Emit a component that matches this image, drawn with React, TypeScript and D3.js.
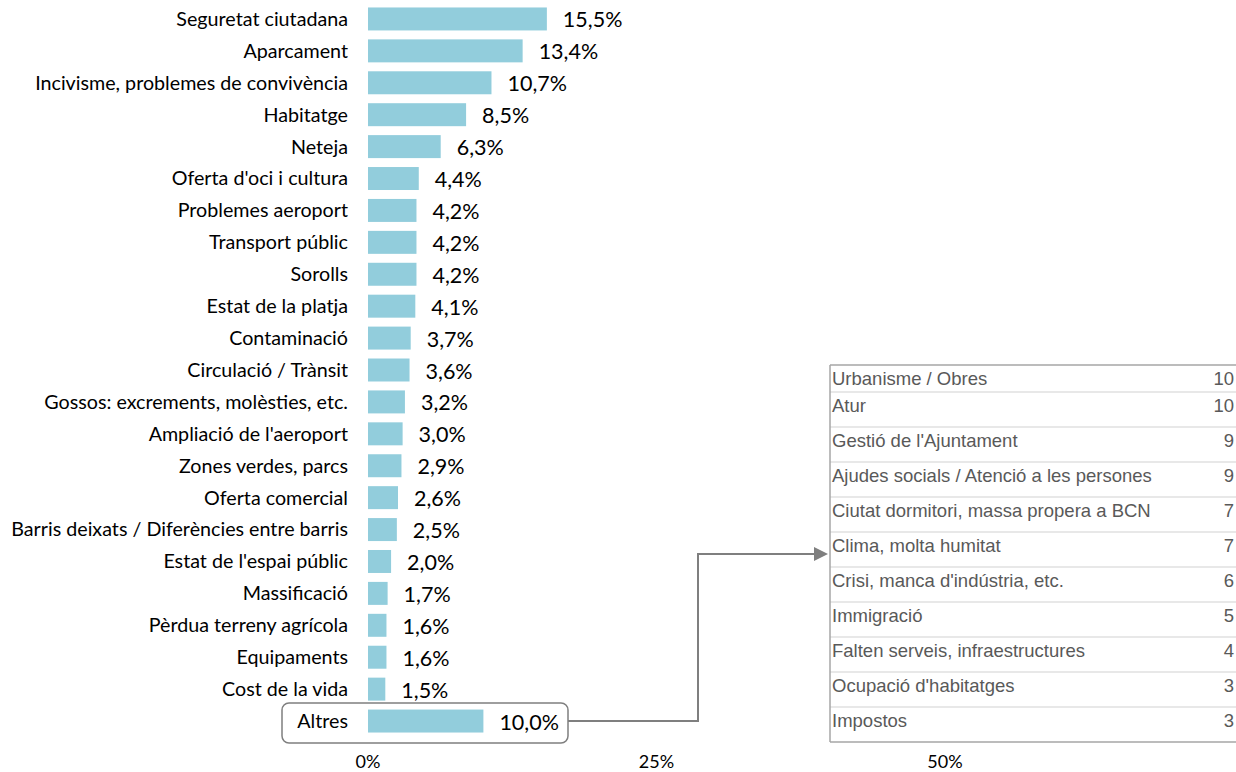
import React from "react";
import * as d3 from "d3";

const categories = [
  "Seguretat ciutadana",
  "Aparcament",
  "Incivisme, problemes de convivència",
  "Habitatge",
  "Neteja",
  "Oferta d'oci i cultura",
  "Problemes aeroport",
  "Transport públic",
  "Sorolls",
  "Estat de la platja",
  "Contaminació",
  "Circulació / Trànsit",
  "Gossos: excrements, molèsties, etc.",
  "Ampliació de l'aeroport",
  "Zones verdes, parcs",
  "Oferta comercial",
  "Barris deixats / Diferències entre barris",
  "Estat de l'espai públic",
  "Massificació",
  "Pèrdua terreny agrícola",
  "Equipaments",
  "Cost de la vida",
  "Altres",
];
const values = [15.5, 13.4, 10.7, 8.5, 6.3, 4.4, 4.2, 4.2, 4.2, 4.1, 3.7, 3.6, 3.2, 3.0, 2.9, 2.6, 2.5, 2.0, 1.7, 1.6, 1.6, 1.5, 10.0];
const xTicks = [0, 25, 50];

const otherLabels = [
  "Urbanisme / Obres",
  "Atur",
  "Gestió de l'Ajuntament",
  "Ajudes socials / Atenció a les persones",
  "Ciutat dormitori, massa propera a BCN",
  "Clima, molta humitat",
  "Crisi, manca d'indústria, etc.",
  "Immigració",
  "Falten serveis, infraestructures",
  "Ocupació d'habitatges",
  "Impostos",
];
const otherValues = [10, 10, 9, 9, 7, 7, 6, 5, 4, 3, 3];

const fmt = (v: number) => v.toFixed(1).replace(".", ",") + "%";

export default function App() {
  const W = 1236, H = 772;
  const x = d3.scaleLinear().domain([0, 50]).range([368, 945]);
  const y = d3.scaleBand<string>().domain(categories).range([3, 737]).paddingInner(0.28).paddingOuter(0.14);
  const barFont = "Lato, 'Open Sans', sans-serif";
  const tblFont = "'Liberation Sans', Arial, sans-serif";

  // table rows
  const tLeft = 830, tRight = 1236, tTop = 365;
  const rowTop = (i: number) => (i === 0 ? tTop : 392 + (i - 1) * 35);
  const tBottom = rowTop(otherLabels.length);

  const altres = categories[categories.length - 1];
  const ay = (y(altres) as number) + y.bandwidth() / 2;
  const boxX0 = 282, boxX1 = 568;
  const elbowX = 698;
  const arrowY = 554;

  return (
    <svg width={W} height={H} style={{ position: "absolute", left: 0, top: 0, background: "#fff" }}>
      {/* bars */}
      {categories.map((c, i) => {
        const yy = y(c) as number;
        const cy = yy + y.bandwidth() / 2;
        return (
          <g key={c}>
            <rect x={x(0)} y={yy} width={x(values[i]) - x(0)} height={y.bandwidth()} fill="#92CDDC" />
            <text x={348} y={cy} dy="0.35em" textAnchor="end" fontFamily={barFont} fontSize={19.7} fill="#000">
              {c}
            </text>
            <text x={x(values[i]) + 16} y={cy + 1} dy="0.35em" textAnchor="start" fontFamily={barFont} fontSize={21.5} fill="#000">
              {fmt(values[i])}
            </text>
          </g>
        );
      })}

      {/* x ticks */}
      {xTicks.map((t) => (
        <text key={t} x={x(t)} y={762} dy="0.35em" textAnchor="middle" fontFamily={barFont} fontSize={18} fill="#000">
          {t + "%"}
        </text>
      ))}

      {/* Altres box */}
      <rect x={boxX0} y={703} width={boxX1 - boxX0} height={40} rx={7} ry={7} fill="none" stroke="#7f7f7f" strokeWidth={1.5} />

      {/* connector */}
      <path d={`M${boxX1},${ay} H${elbowX} V${arrowY} H${tLeft - 14}`} fill="none" stroke="#7f7f7f" strokeWidth={2} />
      <path d={`M${tLeft - 2},${arrowY} L${tLeft - 16},${arrowY - 7} L${tLeft - 16},${arrowY + 7} Z`} fill="#7f7f7f" />

      {/* table */}
      {otherLabels.map((l, i) => (
        <g key={l}>
          {i > 0 && <line x1={tLeft} x2={tRight} y1={rowTop(i)} y2={rowTop(i)} stroke="#e0e0e0" strokeWidth={1.5} />}
          <text x={tLeft + 2} y={rowTop(i) + 14} dy="0.35em" fontFamily={tblFont} fontSize={18.5} fill="#595959">
            {l}
          </text>
          <text x={tRight - 2} y={rowTop(i) + 14} dy="0.35em" textAnchor="end" fontFamily={tblFont} fontSize={18.5} fill="#595959">
            {otherValues[i]}
          </text>
        </g>
      ))}
      <line x1={tLeft} x2={tRight} y1={tTop} y2={tTop} stroke="#a6a6a6" strokeWidth={1.5} />
      <line x1={tLeft} x2={tRight} y1={tBottom} y2={tBottom} stroke="#a6a6a6" strokeWidth={1.5} />
      <line x1={tLeft} x2={tLeft} y1={tTop} y2={tBottom} stroke="#a6a6a6" strokeWidth={1.5} />
    </svg>
  );
}
